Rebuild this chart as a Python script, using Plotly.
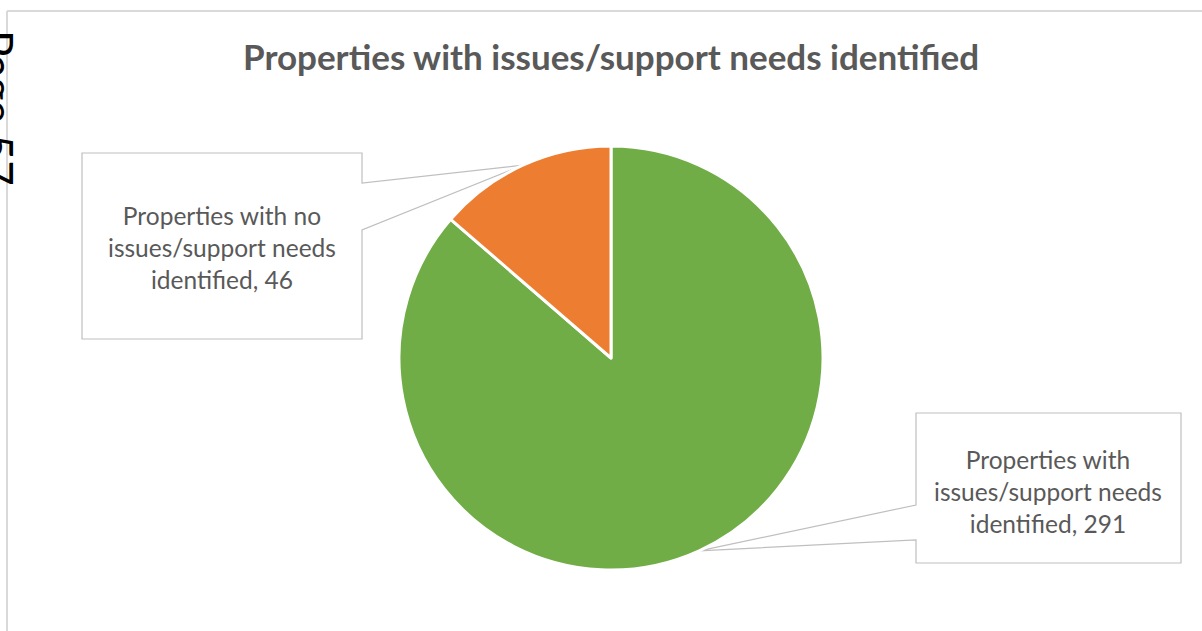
import math
import plotly.graph_objects as go

# Chart data
labels = [
    "Properties with issues/support needs identified",
    "Properties with no issues/support needs identified",
]
values = [291, 46]
colors = ["#70AD47", "#ED7D31"]
title_text = "Properties with issues/support needs identified"
page_label = "Page 57"

W, H = 1202, 631


def fx(p):
    return p / W


def fy(p):
    return 1 - p / H


# Pie geometry (pixels)
cx, cy, r = 611, 358, 212

fig = go.Figure(
    go.Pie(
        labels=labels,
        values=values,
        sort=False,
        direction="clockwise",
        rotation=0,
        marker=dict(colors=colors, line=dict(color="white", width=3)),
        textinfo="none",
        hoverinfo="label+value",
        showlegend=False,
        domain=dict(x=[fx(cx - r), fx(cx + r)], y=[fy(cy + r), fy(cy - r)]),
    )
)

# Slice mid-angles (clockwise from 12 o'clock) -> leader tip points on the rim
total = sum(values)
tips = []
acc = 0
for v in values:
    mid = (acc + v / 2) / total * 2 * math.pi
    tips.append((cx + r * math.sin(mid), cy - r * math.cos(mid)))
    acc += v

box_line = "#BFBFBF"
text_color = "#595959"
font_family = "Lato, 'Open Sans', sans-serif"


def callout_right_wedge(x0, y0, x1, y1, ya, yb, tip):
    tx, ty = tip
    pts = [(x0, y0), (x1, y0), (x1, ya), (tx, ty), (x1, yb), (x1, y1), (x0, y1)]
    return "M " + " L ".join(f"{fx(a)},{fy(b)}" for a, b in pts) + " Z"


def callout_left_wedge(x0, y0, x1, y1, ya, yb, tip):
    tx, ty = tip
    pts = [(x1, y0), (x0, y0), (x0, ya), (tx, ty), (x0, yb), (x0, y1), (x1, y1)]
    return "M " + " L ".join(f"{fx(a)},{fy(b)}" for a, b in pts) + " Z"


shapes = [
    # chart-area frame edges
    dict(type="line", xref="paper", yref="paper", x0=fx(7), x1=fx(7), y0=fy(11), y1=0,
         line=dict(color="#D9D9D9", width=2)),
    dict(type="line", xref="paper", yref="paper", x0=fx(7), x1=1, y0=fy(11), y1=fy(11),
         line=dict(color="#D9D9D9", width=2)),
    # data label callouts
    dict(type="path", xref="paper", yref="paper", layer="below",
         path=callout_right_wedge(82, 153, 362, 339, 183, 230, tips[1]),
         fillcolor="white", line=dict(color=box_line, width=1.2)),
    dict(type="path", xref="paper", yref="paper", layer="below",
         path=callout_left_wedge(916, 413, 1181, 563, 505, 540, tips[0]),
         fillcolor="white", line=dict(color=box_line, width=1.2)),
]

annotations = [
    dict(text=f"<b>{title_text}</b>", x=fx(611), y=fy(56), xref="paper", yref="paper",
         showarrow=False, xanchor="center", yanchor="middle",
         font=dict(family=font_family, size=35, color=text_color)),
    dict(text="Properties with no<br>issues/support needs<br>identified, " + str(values[1]),
         x=fx(222), y=fy(248), xref="paper", yref="paper", showarrow=False,
         xanchor="center", yanchor="middle", align="center",
         font=dict(family=font_family, size=24.5, color=text_color)),
    dict(text="Properties with<br>issues/support needs<br>identified, " + str(values[0]),
         x=fx(1048), y=fy(491), xref="paper", yref="paper", showarrow=False,
         xanchor="center", yanchor="middle", align="center",
         font=dict(family=font_family, size=24.5, color=text_color)),
    # running page number printed in the margin, partly off the left edge
    dict(text=page_label, x=fx(-2), y=fy(108), xref="paper", yref="paper", showarrow=False,
         textangle=90, xanchor="center", yanchor="middle",
         font=dict(family="Lato, sans-serif", size=44, color="black")),
]

fig.update_layout(
    width=W,
    height=H,
    margin=dict(l=0, r=0, t=0, b=0),
    paper_bgcolor="white",
    plot_bgcolor="white",
    shapes=shapes,
    annotations=annotations,
)

fig.write_html("out.html")
